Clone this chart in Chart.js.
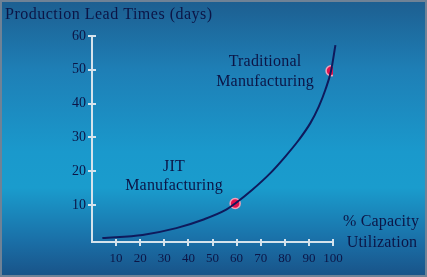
<!DOCTYPE html>
<html>
<head>
<meta charset="utf-8">
<script src="https://cdn.jsdelivr.net/npm/chart.js@4.4.1/dist/chart.umd.min.js"></script>
<style>
html, body { margin: 0; padding: 0; }
body { width: 427px; height: 277px; overflow: hidden; }
#wrap {
  position: relative; width: 423px; height: 273px;
  border: 2px solid #6f8296;
  background: linear-gradient(to bottom, #1d5f91 0%, #1e7fb6 25%, #1a99cc 55%, #1a9ccd 68%, #1a6ea6 88%, #195489 100%);
}
canvas { display: block; }
</style>
</head>
<body>
<div id="wrap"><canvas id="chart" width="423" height="273"></canvas></div>
<script>
// curve
let curveX = [4.3, 21, 35, 46, 55.5, 59.4, 66.4, 74, 80.2, 85.8, 90.6, 94.1, 96.8, 99.2, 101];
let curveY = [0.15, 1.1, 3.1, 5.6, 8.5, 10.4, 14.4, 19.4, 24.3, 29.2, 34.2, 39.1, 44, 49.7, 57.3];

// highlighted points
let markX = [59.4, 99.2];
let markY = [10.4, 49.7];

let xTicks = [10, 20, 30, 40, 50, 60, 70, 80, 90, 100];
let yTicks = [10, 20, 30, 40, 50, 60];

const navy = '#0c1546';
const axisCol = '#d6e3ec';
const serif = '"Liberation Serif", "DejaVu Serif", serif';

// crossing tick marks + free text
const extras = {
  id: 'extras',
  afterDraw(chart) {
    const c = chart.ctx;
    const xs = chart.scales.x, ys = chart.scales.y;
    const a = chart.chartArea;
    c.save();
    c.strokeStyle = axisCol;
    c.lineWidth = 2;
    xTicks.forEach(v => {
      let px = Math.round(xs.getPixelForValue(v));
      c.beginPath(); c.moveTo(px, a.bottom - 3); c.lineTo(px, a.bottom + 4); c.stroke();
    });
    yTicks.forEach(v => {
      let py = Math.round(ys.getPixelForValue(v));
      c.beginPath(); c.moveTo(a.left - 4, py); c.lineTo(a.left + 4, py); c.stroke();
    });

    c.fillStyle = navy;
    c.textBaseline = 'middle';
    c.font = '16px ' + serif;
    c.textAlign = 'left';
    c.letterSpacing = '0.5px';
    c.fillText('Production Lead Times (days)', 3, 13);
    c.letterSpacing = '0.2px';
    c.textAlign = 'center';
    c.fillText('Traditional', 263, 60);
    c.fillText('Manufacturing', 263, 80);
    c.fillText('JIT', 172, 165);
    c.fillText('Manufacturing', 172, 184);
    c.fillText('% Capacity', 379, 220);
    c.fillText('Utilization', 380, 241);
    c.restore();
  }
};

new Chart(document.getElementById('chart'), {
  type: 'line',
  data: {
    datasets: [{
      data: curveX.map((x, i) => ({ x: x, y: curveY[i] })),
      borderColor: '#0f1a5c',
      borderWidth: 2,
      pointRadius: 0,
      cubicInterpolationMode: 'monotone',
      clip: false
    }, {
      data: markX.map((x, i) => ({ x: x, y: markY[i] })),
      showLine: false,
      pointRadius: 5,
      pointBackgroundColor: '#e0124e',
      pointBorderColor: '#f4a0b8',
      pointBorderWidth: 1.5
    }]
  },
  options: {
    responsive: false,
    animation: false,
    events: [],
    devicePixelRatio: 1,
    layout: { padding: { left: 0, right: 92, top: 34, bottom: 0 } },
    plugins: { legend: { display: false }, tooltip: { enabled: false } },
    scales: {
      x: {
        type: 'linear', min: 0, max: 100,
        afterBuildTicks: s => { s.ticks = xTicks.map(v => ({ value: v })); },
        afterFit: s => { s.height = 33; },
        grid: { display: false, drawTicks: false },
        border: { color: axisCol, width: 2 },
        ticks: { color: navy, padding: 9, font: { family: serif, size: 13 } }
      },
      y: {
        type: 'linear', min: -1, max: 60,
        afterBuildTicks: s => { s.ticks = yTicks.map(v => ({ value: v })); },
        afterFit: s => { s.width = 90; },
        grid: { display: false, drawTicks: false },
        border: { color: axisCol, width: 2 },
        ticks: { color: navy, padding: 6, font: { family: serif, size: 14 } }
      }
    }
  },
  plugins: [extras]
});
</script>
</body>
</html>
